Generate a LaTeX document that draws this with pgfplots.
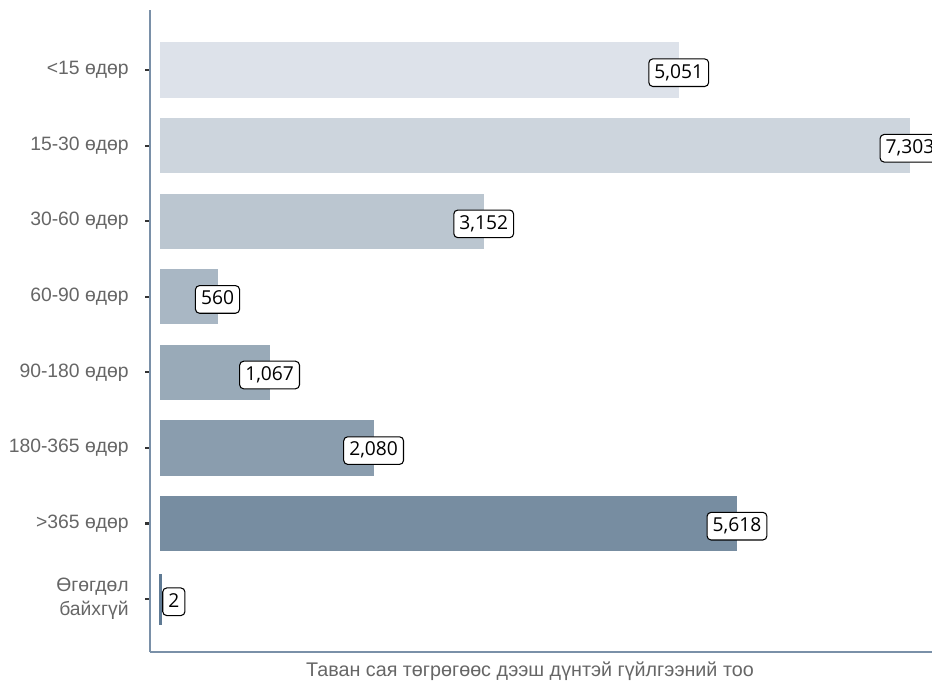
\documentclass[border=0pt]{standalone}
\usepackage{pgfplots}
\pgfplotsset{compat=1.18}
\usepackage{fontspec}
\setmainfont{Liberation Sans}
\newfontfamily\lblfont{Open Sans}
\definecolor{barA}{HTML}{DDE2EA}
\definecolor{barB}{HTML}{CDD5DD}
\definecolor{barC}{HTML}{BBC6D0}
\definecolor{barD}{HTML}{A9B7C4}
\definecolor{barE}{HTML}{99AAB8}
\definecolor{barF}{HTML}{8A9DAE}
\definecolor{barG}{HTML}{778DA1}
\definecolor{barH}{HTML}{5F7A94}
\definecolor{axcol}{HTML}{7A90A8}
\definecolor{ticklab}{HTML}{666666}
\begin{document}
\begin{tikzpicture}
\begin{axis}[
  at={(0pt,0pt)}, anchor=south west, scale only axis,
  width=586.5pt, height=481.5pt,
  xmin=-97.4, xmax=7517, ymin=-0.70, ymax=7.794,
  clip=false,
  axis x line*=bottom, axis y line*=left,
  axis line style={-, draw=axcol, line width=1.5pt},
  xtick=\empty,
  ytick={0,1,2,3,4,5,6,7},
  yticklabels={{Өгөгдөл\\байхгүй},{>365 өдөр},{180-365 өдөр},{90-180 өдөр},{60-90 өдөр},{30-60 өдөр},{15-30 өдөр},{<15 өдөр}},
  yticklabel style={align=right, font=\fontsize{14.5}{18}\selectfont, text=ticklab, xshift=-9pt},
  tick align=outside,
  major tick length=3.5pt,
  tick style={draw=black!80, line width=1.6pt},
  xlabel={Таван сая төгрөгөөс дээш дүнтэй гүйлгээний тоо},
  xlabel style={font=\fontsize{14.8}{17}\selectfont, text=ticklab, xshift=-8.25pt},
  /pgf/number format/.cd, fixed, precision=0, 1000 sep={,}, assume math mode=true,
  /pgfplots/.cd,
  mybar/.style={xbar, bar shift=0pt, bar width=0.73, draw=none, fill=#1,
    nodes near coords,
    nodes near coords style={anchor=center, yshift=-2pt, font=\lblfont\fontsize{14.4}{17}\selectfont,
      draw=black, fill=white, text=black, rounded corners=3pt, line width=0.8pt,
      text height=10.4pt, text depth=2.3pt,
      inner xsep=4.2pt, inner ysep=4pt}},
]
\addplot[mybar=barA] coordinates {(5051,7)};
\addplot[mybar=barB] coordinates {(7303,6)};
\addplot[mybar=barC] coordinates {(3152,5)};
\addplot[mybar=barD] coordinates {(560,4)};
\addplot[mybar=barE] coordinates {(1067,3)};
\addplot[mybar=barF] coordinates {(2080,2)};
\addplot[mybar=barG] coordinates {(5618,1)};
\addplot[mybar=barH, draw=barH, line width=2pt, bar width=0.64,
  nodes near coords style={anchor=west, xshift=1.5pt, yshift=0pt}] coordinates {(2,0)};
\end{axis}
\pgfresetboundingbox
\path[use as bounding box] (-112.5pt,-25.5pt) rectangle (586.5pt,489pt);
\end{tikzpicture}
\end{document}
